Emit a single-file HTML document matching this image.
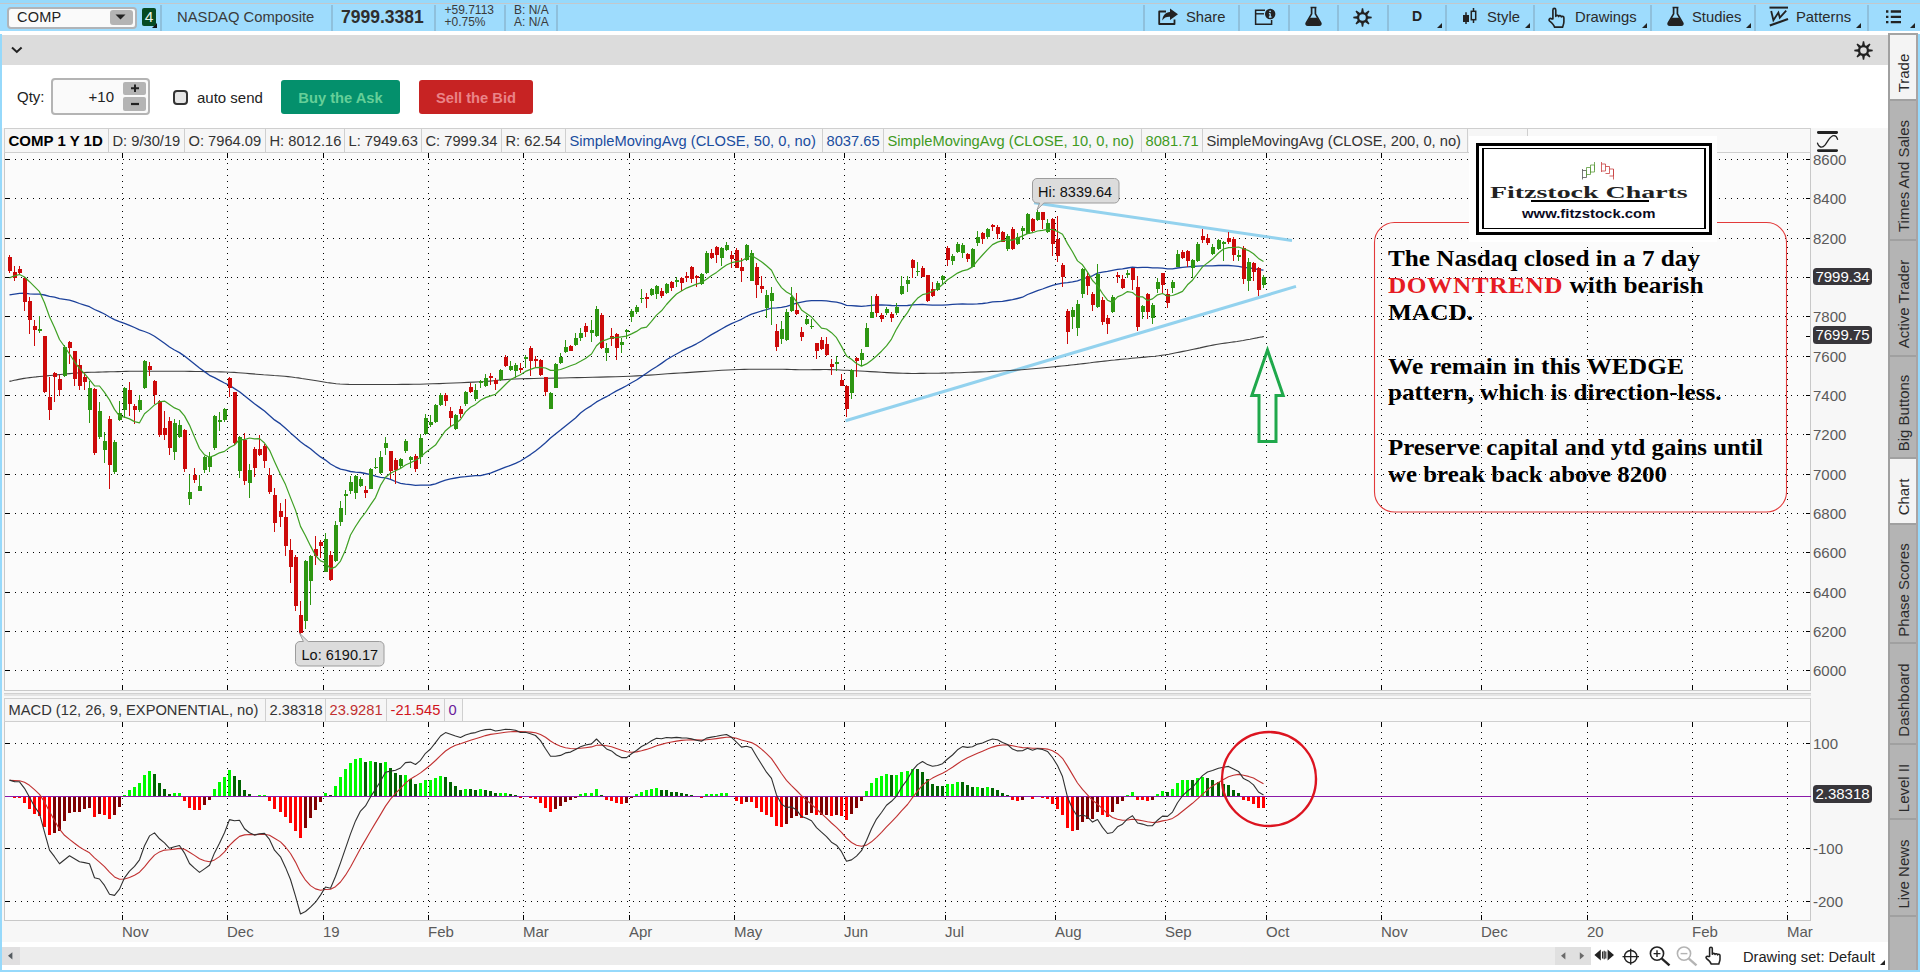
<!DOCTYPE html>
<html><head><meta charset="utf-8"><title>COMP chart</title>
<style>
*{box-sizing:border-box;margin:0;padding:0}
html,body{width:1920px;height:972px;overflow:hidden;background:#fff;font-family:"Liberation Sans",sans-serif;font-size:15px;color:#1a1a1a}
.abs{position:absolute}
#frame{position:absolute;left:0;top:0;width:1920px;height:972px;background:#96d9fb}
#topbar{position:absolute;left:0;top:0;width:1920px;height:32px;background:#9edcfd}
#topbar .ln{position:absolute;left:0;top:0;width:1920px;height:3px;background:#96d9fb;border-bottom:1.5px solid #c2c8cc;box-sizing:content-box}
.tsep{position:absolute;top:5px;width:2px;height:26px;background:#8fc0dc}
.ttxt{position:absolute;top:9px;font-size:14.8px;color:#2b2b2b;white-space:nowrap}
#content{position:absolute;left:2px;top:32px;width:1886px;height:938px;background:#fff}
#graybar{position:absolute;left:2px;top:35px;width:1886px;height:30px;background:#dcdcdc}
#side{position:absolute;left:1888px;top:33px;width:30px;height:937px;background:#b4b4b4;border-left:2px solid #a0a0a0;border-right:2px solid #a8a4a4;border-top:2px solid #a4a4a4}
.tab{position:absolute;left:0;width:26px;border-bottom:2px solid #a0a0a0;}
.tab span{position:absolute;left:12.5px;top:50%;transform:translate(-50%,-50%) translateY(6px) rotate(-90deg);white-space:nowrap;font-size:15px;color:#2b2b2b}
.tab.sel{background:#f4f4f4}
.hdr{position:absolute;height:23px;background:#f7f7f7;border:1px solid #cfcfcf;display:flex;font-size:15px;white-space:nowrap;overflow:hidden}
.hdr div{padding:0 3px 0 4px;border-right:1px solid #cfcfcf;line-height:21px;height:21px}
.axl{position:absolute;left:1813px;font-size:15px;color:#5a5a5a;line-height:16px;height:16px}
.bub{position:absolute;left:1813px;width:59px;height:17.5px;background:#38363b;color:#fff;border-radius:3.5px;font-size:15px;line-height:17.5px;text-align:center}
.xl{position:absolute;top:924px;font-size:15px;color:#5a5a5a;line-height:16px}
</style></head><body>
<div id="frame"></div>
<div id="content"></div>
<div id="topbar"><div class="ln"></div></div>
<div class="abs" style="left:0;top:31px;width:1920px;height:3px;background:#fff"></div>
<div id="graybar"></div>
<div class="abs" style="left:7px;top:7px;width:130px;height:22px;background:#fafafa;border:2px solid #b0b4b8;border-radius:4px"></div>
<div class="abs" style="left:17px;top:9px;font-size:14.5px;line-height:17px;color:#222;letter-spacing:.2px">COMP</div>
<div class="abs" style="left:110px;top:10px;width:23px;height:15px;background:#b4b4b4;border-radius:3px"></div>
<svg class="abs" style="left:115px;top:14px" width="12" height="6"><path d="M0.5,0.5H10.5L5.5,5.5Z" fill="#222"/></svg>
<div class="abs" style="left:142px;top:8px;width:14px;height:18px;background:#064a22;border-radius:2px;color:#e8f4ec;font-size:15.5px;line-height:18px;text-align:center">4</div>
<svg class="abs" style="left:152px;top:23px" width="5" height="5"><path d="M5,0V5H0Z" fill="#111"/></svg>
<div class="tsep" style="left:160px"></div>
<div class="ttxt" style="left:177px;color:#3a3a3a">NASDAQ Composite</div>
<div class="tsep" style="left:331px"></div>
<div class="abs" style="left:341px;top:7px;font-size:17.5px;font-weight:bold;line-height:20px;color:#2e2e2e">7999.3381</div>
<div class="tsep" style="left:434px"></div>
<div class="abs" style="left:444.5px;top:5px;font-size:12px;line-height:11.7px;color:#3a3a3a">+59.7113<br>+0.75%</div>
<div class="tsep" style="left:504px"></div>
<div class="abs" style="left:514px;top:5px;font-size:12px;line-height:11.7px;color:#3a3a3a">B: N/A<br>A: N/A</div>
<div class="tsep" style="left:556px"></div>
<div class="tsep" style="left:1143px"></div>
<div class="tsep" style="left:1238px"></div>
<div class="tsep" style="left:1288px"></div>
<div class="tsep" style="left:1337px"></div>
<div class="tsep" style="left:1387px"></div>
<div class="tsep" style="left:1445px"></div>
<div class="tsep" style="left:1533px"></div>
<div class="tsep" style="left:1650px"></div>
<div class="tsep" style="left:1754px"></div>
<div class="tsep" style="left:1867px"></div>
<svg class="abs" style="left:1157px;top:7px" width="22" height="19"><path d="M9,4.5H2.2V17H17.5V12.5" fill="none" stroke="#222" stroke-width="1.8" stroke-linejoin="round"/><path d="M13,1.5L21,7.3L13,13V9.8C9.5,9.6 7.3,10.6 5.3,13.4C5.6,8.6 8.5,5.4 13,5Z" fill="#222"/></svg>
<div class="ttxt" style="left:1186px">Share</div>
<svg class="abs" style="left:1254px;top:8px" width="23" height="18"><path d="M11,2.2H1.6V16.2H17.6V12" fill="none" stroke="#222" stroke-width="1.5"/><path d="M1.6,5.8H10" stroke="#222" stroke-width="1.4"/><circle cx="16.2" cy="6" r="5.2" fill="#222"/><path d="M16.2,5.4V9M14.9,5.6h1.3M14.9,9h2.6" stroke="#9ddafb" stroke-width="1.3" fill="none"/><circle cx="16.1" cy="3.3" r=".9" fill="#9ddafb"/></svg>
<svg class="abs" style="left:1303.5px;top:6px" width="19" height="21" viewBox="0 0 18 19.4"><path d="M6.2,1.2h5.6M7.2,1.2v6L2.2,15.8c-.6,1.2,.1,2.2,1.4,2.2h10.8c1.3,0,2-1,1.4-2.2L10.8,7.2v-6" fill="none" stroke="#222" stroke-width="1.6" stroke-linejoin="round"/><path d="M5.4,11h7.2l3,5.2c.4,.9,0,1.6-1,1.6H3.4c-1,0-1.4-.7-1-1.6Z" fill="#222"/></svg>
<svg class="abs" style="left:1352.5px;top:8px" width="19" height="19"><path d="M13.68,11.12L18.71,10.16L18.71,8.84L13.68,7.88ZM11.31,13.60L15.55,16.49L16.49,15.55L13.60,11.31ZM7.88,13.68L8.84,18.71L10.16,18.71L11.12,13.68ZM5.40,11.31L2.51,15.55L3.45,16.49L7.69,13.60ZM5.32,7.88L0.29,8.84L0.29,10.17L5.32,11.12ZM7.69,5.40L3.45,2.51L2.51,3.45L5.40,7.69ZM11.12,5.32L10.16,0.29L8.83,0.29L7.88,5.32ZM13.60,7.69L16.49,3.45L15.55,2.51L11.31,5.40Z" fill="#222"/><circle cx="9.5" cy="9.5" r="4.41" fill="none" stroke="#222" stroke-width="2.24"/></svg>
<div class="abs" style="left:1412px;top:8px;font-size:14px;font-weight:bold;line-height:17px;color:#222">D</div>
<svg class="abs" style="left:1437px;top:23px" width="5" height="5"><path d="M5,0V5H0Z" fill="#222"/></svg>
<svg class="abs" style="left:1462px;top:7px" width="16" height="20"><path d="M4,5.2V17M11.5,1V16" stroke="#222" stroke-width="1.5"/><rect x="1" y="8" width="6" height="7" fill="#222"/><rect x="9.3" y="4.3" width="4.4" height="8.4" fill="#9ddafb" stroke="#222" stroke-width="1.5"/></svg>
<div class="ttxt" style="left:1487px">Style</div>
<svg class="abs" style="left:1525px;top:23px" width="5" height="5"><path d="M5,0V5H0Z" fill="#222"/></svg>
<svg class="abs" style="left:1547px;top:6.5px" width="19" height="21.5" viewBox="0 0 18 19.2" preserveAspectRatio="none"><path d="M5.6,10.5V2.6c0-1.9,2.7-1.9,2.7,0V8.3c.3-1.3,2.6-1.2,2.7,.2c.4-1.2,2.5-1,2.6,.4c.5-1,2.4-.8,2.4,.7v3.6c0,2.2-.9,3.2-1.2,4.8H7.2C6.6,16 4.6,14.2 2.6,12.6C1.2,11.4 2.6,9.6 4.2,10.5Z" fill="none" stroke="#222" stroke-width="1.55" stroke-linejoin="round"/></svg>
<div class="ttxt" style="left:1575px">Drawings</div>
<svg class="abs" style="left:1642px;top:23px" width="5" height="5"><path d="M5,0V5H0Z" fill="#222"/></svg>
<svg class="abs" style="left:1665.5px;top:6px" width="19" height="21" viewBox="0 0 18 19.4"><path d="M6.2,1.2h5.6M7.2,1.2v6L2.2,15.8c-.6,1.2,.1,2.2,1.4,2.2h10.8c1.3,0,2-1,1.4-2.2L10.8,7.2v-6" fill="none" stroke="#222" stroke-width="1.6" stroke-linejoin="round"/><path d="M5.4,11h7.2l3,5.2c.4,.9,0,1.6-1,1.6H3.4c-1,0-1.4-.7-1-1.6Z" fill="#222"/></svg>
<div class="ttxt" style="left:1692px">Studies</div>
<svg class="abs" style="left:1746px;top:23px" width="5" height="5"><path d="M5,0V5H0Z" fill="#222"/></svg>
<svg class="abs" style="left:1769px;top:6px" width="20" height="21"><path d="M0.5,1.6H19" stroke="#222" stroke-width="2"/><path d="M2.2,5L4.4,14.2L9.4,6.6L10.8,11.6L17.2,4.6" fill="none" stroke="#222" stroke-width="1.8" stroke-linejoin="miter"/><path d="M0.8,19.6L19,13" stroke="#222" stroke-width="2.1"/></svg>
<div class="ttxt" style="left:1796px">Patterns</div>
<svg class="abs" style="left:1856px;top:23px" width="5" height="5"><path d="M5,0V5H0Z" fill="#222"/></svg>
<svg class="abs" style="left:1886px;top:10px" width="16" height="14"><path d="M0,1.5H2.4M4.8,1.5H15M0,6.8H2.4M4.8,6.8H15M0,12.1H2.4M4.8,12.1H15" stroke="#222" stroke-width="2.3"/></svg>
<svg class="abs" style="left:1910px;top:23px" width="5" height="5"><path d="M5,0V5H0Z" fill="#222"/></svg>
<svg class="abs" style="left:10px;top:45px" width="14" height="10"><path d="M2,2.5L6.8,7L11.6,2.5" fill="none" stroke="#222" stroke-width="2"/></svg>
<svg class="abs" style="left:1853.5px;top:40.5px" width="19" height="19"><path d="M13.68,11.12L18.71,10.16L18.71,8.84L13.68,7.88ZM11.31,13.60L15.55,16.49L16.49,15.55L13.60,11.31ZM7.88,13.68L8.84,18.71L10.16,18.71L11.12,13.68ZM5.40,11.31L2.51,15.55L3.45,16.49L7.69,13.60ZM5.32,7.88L0.29,8.84L0.29,10.17L5.32,11.12ZM7.69,5.40L3.45,2.51L2.51,3.45L5.40,7.69ZM11.12,5.32L10.16,0.29L8.83,0.29L7.88,5.32ZM13.60,7.69L16.49,3.45L15.55,2.51L11.31,5.40Z" fill="#222"/><circle cx="9.5" cy="9.5" r="4.41" fill="none" stroke="#222" stroke-width="2.24"/></svg>
<div class="abs" style="left:17px;top:88px;font-size:15px;line-height:17px;color:#222">Qty:</div>
<div class="abs" style="left:51px;top:78px;width:99px;height:37px;background:#fafafa;border:2px solid #b4b4b4;border-radius:4px"></div>
<div class="abs" style="left:70px;top:88px;width:44px;text-align:right;font-size:15px;line-height:17px;color:#222">+10</div>
<div class="abs" style="left:123px;top:82px;width:23px;height:13px;background:#b4b4b4;border-radius:2px"></div>
<div class="abs" style="left:123px;top:97px;width:23px;height:14px;background:#b4b4b4;border-radius:2px"></div>
<svg class="abs" style="left:130px;top:84px" width="10" height="26"><path d="M1,4.2H9M5,0.4V8" stroke="#222" stroke-width="2"/><path d="M1,20H9" stroke="#222" stroke-width="2.2"/></svg>
<div class="abs" style="left:173px;top:90px;width:15px;height:15px;background:#e6e6e6;border:2px solid #333;border-radius:4px"></div>
<div class="abs" style="left:197px;top:89px;font-size:15px;line-height:17px;color:#222">auto send</div>
<div class="abs" style="left:281px;top:80px;width:119px;height:34px;background:#04906c;border-radius:3px;color:#66cf98;font-weight:bold;font-size:14.7px;line-height:36px;text-align:center">Buy the Ask</div>
<div class="abs" style="left:419px;top:80px;width:114px;height:34px;background:#c72323;border-radius:3px;color:#ea8488;font-weight:bold;font-size:14.7px;line-height:36px;text-align:center">Sell the Bid</div>
<div class="abs" style="left:2px;top:128px;width:1886px;height:815px;background:#f7f7f7"></div>
<div class="abs" style="left:4px;top:152px;width:1807px;height:539px;background:#fbfbfb;border:1px solid #c8c8c8"></div>
<div class="abs" style="left:4px;top:693px;width:1807px;height:3px;background:#e4e4e4;border-top:1px solid #d0d0d0"></div>
<div class="abs" style="left:4px;top:721px;width:1807px;height:200px;background:#fbfbfb;border:1px solid #c8c8c8"></div>
<svg class="abs" style="left:0;top:0" width="1920" height="972">
<path d="M9,670.5H1806 M9,631.5H1806 M9,592.5H1806 M9,552.5H1806 M9,513.5H1806 M9,474.5H1806 M9,434.5H1806 M9,395.5H1806 M9,356.5H1806 M9,316.5H1806 M9,277.5H1806 M9,238.5H1806 M9,198.5H1806 M9,159.5H1806 M9,743.5H1806 M9,848.5H1806 M9,901.5H1806" stroke="#000" stroke-width="1" stroke-dasharray="1 5" shape-rendering="crispEdges" fill="none"/>
<path d="M122.5,163V686M122.5,732V916 M227.5,163V686M227.5,732V916 M323.5,163V686M323.5,732V916 M428.5,163V686M428.5,732V916 M523.5,163V686M523.5,732V916 M629.5,163V686M629.5,732V916 M734.5,163V686M734.5,732V916 M844.5,163V686M844.5,732V916 M945.5,163V686M945.5,732V916 M1055.5,163V686M1055.5,732V916 M1165.5,163V686M1165.5,732V916 M1266.5,163V686M1266.5,732V916 M1381.5,163V686M1381.5,732V916 M1481.5,163V686M1481.5,732V916 M1587.5,163V686M1587.5,732V916 M1692.5,163V686M1692.5,732V916 M1787.5,163V686M1787.5,732V916" stroke="#000" stroke-width="1" stroke-dasharray="1 5" shape-rendering="crispEdges" fill="none"/>
<path d="M122.5,153v5M122.5,685v5M122.5,722v5M122.5,915v5 M227.5,153v5M227.5,685v5M227.5,722v5M227.5,915v5 M323.5,153v5M323.5,685v5M323.5,722v5M323.5,915v5 M428.5,153v5M428.5,685v5M428.5,722v5M428.5,915v5 M523.5,153v5M523.5,685v5M523.5,722v5M523.5,915v5 M629.5,153v5M629.5,685v5M629.5,722v5M629.5,915v5 M734.5,153v5M734.5,685v5M734.5,722v5M734.5,915v5 M844.5,153v5M844.5,685v5M844.5,722v5M844.5,915v5 M945.5,153v5M945.5,685v5M945.5,722v5M945.5,915v5 M1055.5,153v5M1055.5,685v5M1055.5,722v5M1055.5,915v5 M1165.5,153v5M1165.5,685v5M1165.5,722v5M1165.5,915v5 M1266.5,153v5M1266.5,685v5M1266.5,722v5M1266.5,915v5 M1381.5,153v5M1381.5,685v5M1381.5,722v5M1381.5,915v5 M1481.5,153v5M1481.5,685v5M1481.5,722v5M1481.5,915v5 M1587.5,153v5M1587.5,685v5M1587.5,722v5M1587.5,915v5 M1692.5,153v5M1692.5,685v5M1692.5,722v5M1692.5,915v5 M1787.5,153v5M1787.5,685v5M1787.5,722v5M1787.5,915v5 M5,670.5h5M1806,670.5h4 M5,631.5h5M1806,631.5h4 M5,592.5h5M1806,592.5h4 M5,552.5h5M1806,552.5h4 M5,513.5h5M1806,513.5h4 M5,474.5h5M1806,474.5h4 M5,434.5h5M1806,434.5h4 M5,395.5h5M1806,395.5h4 M5,356.5h5M1806,356.5h4 M5,316.5h5M1806,316.5h4 M5,277.5h5M1806,277.5h4 M5,238.5h5M1806,238.5h4 M5,198.5h5M1806,198.5h4 M5,159.5h5M1806,159.5h4 M5,743.5h5M1806,743.5h4 M5,848.5h5M1806,848.5h4 M5,901.5h5M1806,901.5h4 M5,796.5h5M1806,277.5h4M1806,336.5h4" stroke="#000" stroke-width="1" shape-rendering="crispEdges" fill="none"/>
<path d="M1034,202.7L1292,240.4" stroke="#93d2ee" stroke-width="3" fill="none"/>
<path d="M845.5,420.8L1296,286.4" stroke="#93d2ee" stroke-width="3" fill="none"/>
<path d="M9.4,381.4 L10.7,381.1 L12.3,380.8 L14.2,380.3 L16.4,379.9 L18.8,379.4 L21.4,378.9 L24.1,378.4 L26.8,378.0 L29.7,377.6 L32.8,377.2 L36.1,376.9 L39.6,376.5 L43.1,376.2 L46.6,375.9 L50.1,375.5 L53.5,375.2 L56.8,374.9 L60.1,374.5 L63.4,374.2 L66.7,373.9 L70.0,373.6 L73.4,373.3 L76.8,373.0 L80.3,372.8 L83.8,372.6 L87.4,372.4 L91.0,372.3 L94.7,372.2 L98.4,372.1 L102.2,372.0 L106.1,371.9 L110.0,371.8 L114.0,371.7 L117.9,371.6 L121.9,371.5 L126.0,371.4 L130.2,371.3 L134.6,371.3 L139.1,371.2 L144.0,371.2 L149.2,371.2 L154.8,371.2 L160.6,371.2 L166.6,371.2 L172.7,371.2 L178.6,371.3 L184.5,371.3 L190.0,371.4 L195.4,371.5 L200.7,371.5 L205.9,371.6 L211.0,371.7 L216.0,371.8 L220.8,371.9 L225.5,372.0 L230.0,372.2 L234.2,372.4 L238.2,372.7 L242.1,373.0 L245.8,373.3 L249.3,373.6 L252.9,373.9 L256.4,374.2 L260.0,374.5 L263.6,374.8 L267.2,375.0 L270.7,375.2 L274.2,375.5 L277.7,375.7 L281.1,376.0 L284.6,376.3 L288.0,376.6 L291.4,377.0 L294.9,377.5 L298.3,377.9 L301.7,378.5 L305.1,379.0 L308.4,379.5 L311.7,380.0 L315.0,380.5 L318.1,381.0 L321.0,381.5 L323.9,382.0 L326.7,382.5 L329.6,382.9 L332.7,383.3 L336.2,383.7 L340.0,384.0 L344.2,384.2 L348.8,384.4 L353.6,384.5 L358.7,384.5 L363.9,384.5 L369.2,384.5 L374.6,384.5 L380.0,384.5 L385.4,384.5 L390.9,384.5 L396.5,384.5 L402.1,384.4 L407.9,384.4 L413.8,384.3 L419.8,384.2 L426.0,384.0 L432.5,383.8 L439.4,383.6 L446.5,383.3 L453.7,383.0 L460.8,382.7 L467.6,382.4 L474.1,382.1 L480.0,381.8 L485.1,381.5 L489.6,381.1 L493.6,380.7 L497.4,380.3 L501.2,380.0 L505.3,379.6 L509.8,379.3 L515.0,379.0 L520.9,378.8 L527.2,378.6 L533.9,378.5 L540.9,378.3 L548.1,378.2 L555.4,378.1 L562.7,378.0 L570.0,377.8 L577.3,377.6 L584.9,377.5 L592.6,377.3 L600.3,377.1 L608.0,376.9 L615.6,376.7 L622.9,376.5 L630.0,376.2 L636.7,375.9 L643.1,375.5 L649.3,375.1 L655.4,374.7 L661.4,374.3 L667.5,373.8 L673.6,373.4 L680.0,373.0 L686.7,372.6 L693.6,372.1 L700.7,371.6 L707.9,371.2 L714.9,370.7 L721.7,370.3 L728.1,370.0 L734.0,369.7 L739.4,369.5 L744.3,369.4 L749.0,369.3 L753.3,369.2 L757.5,369.2 L761.6,369.2 L765.8,369.2 L770.0,369.2 L774.3,369.2 L778.6,369.3 L782.9,369.3 L787.1,369.4 L791.2,369.5 L795.2,369.6 L799.2,369.7 L803.0,369.7 L806.6,369.7 L810.1,369.7 L813.4,369.6 L816.7,369.6 L819.9,369.6 L823.2,369.5 L826.5,369.5 L830.0,369.6 L833.5,369.7 L837.0,369.8 L840.5,370.0 L844.0,370.2 L847.7,370.3 L851.5,370.6 L855.6,370.8 L860.0,371.0 L864.8,371.3 L870.1,371.6 L875.7,371.9 L881.4,372.2 L887.1,372.6 L892.7,372.9 L898.1,373.1 L903.0,373.3 L907.5,373.4 L911.8,373.5 L915.9,373.5 L919.9,373.4 L923.7,373.4 L927.5,373.3 L931.2,373.3 L935.0,373.2 L938.7,373.2 L942.1,373.1 L945.3,373.0 L948.6,373.0 L952.0,372.9 L955.6,372.8 L959.6,372.7 L964.0,372.5 L969.0,372.3 L974.4,372.1 L980.1,371.9 L986.1,371.7 L992.1,371.4 L998.2,371.2 L1004.2,370.8 L1010.0,370.5 L1015.7,370.1 L1021.6,369.7 L1027.4,369.2 L1033.2,368.7 L1038.9,368.2 L1044.3,367.7 L1049.4,367.2 L1054.0,366.8 L1058.1,366.4 L1061.7,366.0 L1065.0,365.7 L1068.0,365.4 L1070.9,365.0 L1073.8,364.7 L1076.8,364.4 L1080.0,364.0 L1083.4,363.6 L1086.9,363.2 L1090.4,362.8 L1093.9,362.3 L1097.5,361.9 L1101.0,361.5 L1104.5,361.1 L1108.0,360.7 L1111.4,360.3 L1114.8,360.0 L1118.2,359.6 L1121.6,359.3 L1124.9,359.0 L1128.3,358.7 L1131.6,358.3 L1135.0,358.0 L1138.4,357.7 L1141.7,357.4 L1145.1,357.1 L1148.4,356.8 L1151.8,356.5 L1155.2,356.2 L1158.6,355.8 L1162.0,355.3 L1165.5,354.8 L1169.0,354.2 L1172.5,353.5 L1176.1,352.8 L1179.6,352.1 L1183.1,351.4 L1186.6,350.7 L1190.0,350.0 L1193.4,349.3 L1196.7,348.6 L1200.0,347.9 L1203.2,347.1 L1206.5,346.4 L1209.7,345.7 L1212.9,345.1 L1216.0,344.5 L1219.1,344.0 L1222.1,343.5 L1225.1,343.1 L1228.1,342.7 L1231.1,342.3 L1234.0,341.9 L1237.0,341.5 L1240.0,341.0 L1243.2,340.5 L1246.6,339.8 L1250.1,339.2 L1253.5,338.5 L1256.8,337.9 L1259.7,337.3 L1262.1,336.9 L1264.0,336.5" fill="none" stroke="#404040" stroke-width="1.1" stroke-linejoin="round" />
<path d="M9.5,294.8 L14.5,294.1 L19.5,293.3 L24.5,293.2 L29.5,293.8 L34.5,294.2 L39.5,294.2 L44.5,295.0 L49.5,296.4 L54.5,297.2 L59.5,298.7 L64.5,299.3 L69.5,300.2 L74.5,301.7 L79.5,303.5 L84.5,305.1 L89.5,306.7 L94.5,309.5 L99.5,311.7 L104.5,314.0 L109.5,317.0 L114.5,319.6 L119.5,321.6 L124.5,323.3 L129.5,325.4 L134.5,327.5 L139.5,329.8 L144.5,331.5 L149.5,333.5 L154.5,336.2 L159.5,339.7 L164.5,343.3 L169.5,347.0 L174.5,350.0 L179.5,352.6 L184.5,356.1 L189.5,360.1 L194.5,364.0 L199.5,368.0 L204.5,371.6 L209.5,375.3 L214.5,377.7 L219.5,380.3 L224.5,383.0 L229.5,385.3 L234.5,388.6 L239.5,391.7 L244.5,395.8 L249.5,399.8 L254.5,403.8 L259.5,407.4 L264.5,411.1 L269.5,415.5 L274.5,419.9 L280.5,423.9 L285.5,428.2 L290.5,432.9 L295.5,437.2 L300.5,441.7 L305.5,445.4 L310.5,448.7 L315.5,452.9 L320.5,456.9 L325.5,460.1 L330.5,464.0 L335.5,466.8 L340.5,469.2 L345.5,470.1 L350.5,471.5 L355.5,472.2 L360.5,472.5 L365.5,473.5 L370.5,474.6 L375.5,476.2 L380.5,477.3 L385.5,477.9 L390.5,479.3 L395.5,481.5 L400.5,483.3 L405.5,484.2 L410.5,484.7 L415.5,485.4 L420.5,485.2 L425.5,485.1 L430.5,485.0 L435.5,483.8 L440.5,481.8 L445.5,480.2 L450.5,478.9 L455.5,478.0 L460.5,477.1 L465.5,476.7 L470.5,476.1 L475.5,475.7 L480.5,475.6 L485.5,474.3 L490.5,473.1 L495.5,471.2 L500.5,469.2 L505.5,467.1 L510.5,465.4 L515.5,463.4 L520.5,461.0 L525.5,457.7 L530.5,454.6 L535.5,450.9 L540.5,447.0 L545.5,442.8 L550.5,438.0 L555.5,434.0 L560.5,430.1 L565.5,425.9 L570.5,422.0 L575.5,418.0 L580.5,413.0 L585.5,409.2 L591.5,405.6 L596.5,401.9 L601.5,399.2 L606.5,396.7 L611.5,393.8 L616.5,390.9 L621.5,388.4 L626.5,385.7 L631.5,382.7 L636.5,380.0 L641.5,376.6 L646.5,373.2 L651.5,369.8 L656.5,366.7 L661.5,363.4 L666.5,359.8 L671.5,356.7 L676.5,354.0 L681.5,351.2 L686.5,348.6 L691.5,346.3 L696.5,343.8 L701.5,341.0 L706.5,337.7 L711.5,334.6 L716.5,331.9 L721.5,329.0 L726.5,326.1 L731.5,323.7 L736.5,321.5 L741.5,319.3 L746.5,316.5 L751.5,314.2 L756.5,312.6 L761.5,311.0 L766.5,309.6 L771.5,308.1 L776.5,307.9 L781.5,307.3 L786.5,306.3 L791.5,304.8 L796.5,303.2 L801.5,302.1 L806.5,301.2 L811.5,300.6 L816.5,300.6 L821.5,300.6 L826.5,300.9 L831.5,301.6 L836.5,302.2 L841.5,303.3 L846.5,305.3 L851.5,305.7 L856.5,306.0 L861.5,306.3 L866.5,305.9 L871.5,305.3 L876.5,304.9 L881.5,305.0 L886.5,305.1 L891.5,305.5 L896.5,305.7 L901.5,305.6 L907.5,305.5 L912.5,304.9 L917.5,304.6 L922.5,304.4 L927.5,304.8 L932.5,305.1 L937.5,305.2 L942.5,305.2 L947.5,304.8 L952.5,304.4 L957.5,304.2 L962.5,304.0 L967.5,304.1 L972.5,304.1 L977.5,303.9 L982.5,303.5 L987.5,302.8 L992.5,301.9 L997.5,301.7 L1002.5,301.4 L1007.5,300.5 L1012.5,299.7 L1017.5,298.5 L1022.5,297.2 L1027.5,294.5 L1032.5,292.6 L1037.5,290.6 L1042.5,289.0 L1047.5,287.2 L1052.5,285.4 L1057.5,284.1 L1062.5,283.1 L1067.5,282.7 L1072.5,281.9 L1077.5,280.9 L1082.5,279.0 L1087.5,277.4 L1092.5,275.8 L1097.5,273.1 L1102.5,272.2 L1107.5,271.4 L1112.5,270.3 L1117.5,269.3 L1122.5,268.8 L1127.5,268.0 L1132.5,267.2 L1137.5,267.6 L1142.5,267.4 L1147.5,267.4 L1152.5,267.8 L1157.5,267.9 L1162.5,268.2 L1167.5,268.8 L1172.5,268.9 L1177.5,268.0 L1182.5,267.3 L1187.5,266.8 L1192.5,266.5 L1197.5,266.2 L1202.5,265.9 L1207.5,265.8 L1212.5,265.9 L1218.5,265.5 L1223.5,265.4 L1228.5,265.5 L1233.5,265.8 L1238.5,266.3 L1243.5,267.3 L1248.5,267.9 L1253.5,268.5 L1258.5,269.6 L1263.5,270.1" fill="none" stroke="#1c419a" stroke-width="1.3" stroke-linejoin="round" />
<path d="M39,316h1V333h-1Z M38,329h4V331h-4Z M64,345h1V377h-1Z M63,347h4V376h-4Z M89,381h1V423h-1Z M88,388h4V410h-4Z M99,402h1V439h-1Z M98,411h4V437h-4Z M104,432h1V463h-1Z M103,441h4V450h-4Z M114,440h1V474h-1Z M113,442h4V472h-4Z M119,401h1V421h-1Z M118,413h4V420h-4Z M124,387h1V418h-1Z M123,388h4V410h-4Z M139,395h1V412h-1Z M138,400h4V410h-4Z M144,360h1V389h-1Z M143,361h4V388h-4Z M174,419h1V460h-1Z M173,423h4V452h-4Z M179,420h1V438h-1Z M178,425h4V437h-4Z M189,475h1V505h-1Z M188,492h4V499h-4Z M199,475h1V491h-1Z M198,486h4V491h-4Z M204,456h1V473h-1Z M203,457h4V470h-4Z M209,452h1V472h-1Z M208,457h4V467h-4Z M214,415h1V450h-1Z M213,416h4V448h-4Z M219,412h1V431h-1Z M218,420h4V422h-4Z M224,408h1V422h-1Z M223,409h4V420h-4Z M239,436h1V478h-1Z M238,437h4V471h-4Z M249,464h1V498h-1Z M248,470h4V483h-4Z M305,560h1V629h-1Z M304,561h4V621h-4Z M310,555h1V605h-1Z M309,556h4V581h-4Z M325,533h1V572h-1Z M324,539h4V572h-4Z M335,521h1V562h-1Z M334,525h4V561h-4Z M340,501h1V526h-1Z M339,508h4V522h-4Z M345,490h1V515h-1Z M344,494h4V496h-4Z M350,476h1V494h-1Z M349,482h4V491h-4Z M355,475h1V499h-1Z M354,476h4V493h-4Z M360,477h1V487h-1Z M359,479h4V486h-4Z M370,468h1V489h-1Z M369,469h4V489h-4Z M375,458h1V469h-1Z M374,467h4V468h-4Z M380,451h1V474h-1Z M379,457h4V473h-4Z M385,437h1V455h-1Z M384,443h4V448h-4Z M400,458h1V468h-1Z M399,459h4V466h-4Z M405,439h1V453h-1Z M404,441h4V451h-4Z M410,456h1V468h-1Z M409,457h4V460h-4Z M420,434h1V464h-1Z M419,438h4V457h-4Z M425,414h1V435h-1Z M424,418h4V434h-4Z M430,415h1V427h-1Z M429,422h4V425h-4Z M435,404h1V423h-1Z M434,405h4V422h-4Z M440,393h1V406h-1Z M439,395h4V405h-4Z M455,414h1V430h-1Z M454,415h4V429h-4Z M465,391h1V406h-1Z M464,392h4V404h-4Z M475,384h1V401h-1Z M474,390h4V399h-4Z M480,380h1V388h-1Z M479,381h4V383h-4Z M485,374h1V387h-1Z M484,378h4V386h-4Z M500,369h1V381h-1Z M499,370h4V380h-4Z M510,361h1V371h-1Z M509,366h4V370h-4Z M515,363h1V378h-1Z M514,365h4V371h-4Z M525,355h1V368h-1Z M524,357h4V359h-4Z M550,392h1V409h-1Z M549,393h4V409h-4Z M555,363h1V388h-1Z M554,364h4V388h-4Z M560,353h1V364h-1Z M559,357h4V363h-4Z M565,340h1V353h-1Z M564,347h4V352h-4Z M575,333h1V346h-1Z M574,338h4V345h-4Z M580,328h1V341h-1Z M579,333h4V338h-4Z M591,320h1V342h-1Z M590,330h4V333h-4Z M596,306h1V337h-1Z M595,309h4V336h-4Z M606,343h1V361h-1Z M605,348h4V353h-4Z M621,338h1V353h-1Z M620,342h4V345h-4Z M626,329h1V339h-1Z M625,330h4V332h-4Z M631,309h1V322h-1Z M630,311h4V317h-4Z M636,305h1V314h-1Z M635,307h4V312h-4Z M641,289h1V303h-1Z M640,298h4V299h-4Z M651,288h1V296h-1Z M650,289h4V295h-4Z M656,285h1V299h-1Z M655,286h4V294h-4Z M666,283h1V294h-1Z M665,284h4V293h-4Z M676,277h1V287h-1Z M675,280h4V282h-4Z M701,273h1V285h-1Z M700,274h4V284h-4Z M706,251h1V274h-1Z M705,253h4V273h-4Z M721,247h1V266h-1Z M720,248h4V258h-4Z M726,242h1V251h-1Z M725,245h4V250h-4Z M746,244h1V261h-1Z M745,245h4V260h-4Z M751,250h1V281h-1Z M750,253h4V281h-4Z M766,290h1V318h-1Z M765,295h4V308h-4Z M771,287h1V325h-1Z M770,293h4V301h-4Z M781,321h1V344h-1Z M780,329h4V339h-4Z M786,309h1V341h-1Z M785,312h4V340h-4Z M791,287h1V312h-1Z M790,297h4V311h-4Z M806,315h1V325h-1Z M805,319h4V324h-4Z M811,319h1V329h-1Z M810,326h4V327h-4Z M836,356h1V371h-1Z M835,362h4V364h-4Z M851,369h1V399h-1Z M850,370h4V393h-4Z M861,349h1V366h-1Z M860,353h4V360h-4Z M866,323h1V347h-1Z M865,328h4V347h-4Z M871,296h1V318h-1Z M870,312h4V318h-4Z M886,307h1V315h-1Z M885,309h4V313h-4Z M896,303h1V315h-1Z M895,307h4V313h-4Z M901,276h1V295h-1Z M900,286h4V294h-4Z M907,276h1V292h-1Z M906,280h4V284h-4Z M917,262h1V276h-1Z M916,271h4V272h-4Z M937,281h1V291h-1Z M936,283h4V290h-4Z M942,275h1V284h-1Z M941,276h4V280h-4Z M952,254h1V265h-1Z M951,256h4V261h-4Z M957,242h1V253h-1Z M956,244h4V252h-4Z M962,243h1V258h-1Z M961,245h4V253h-4Z M972,248h1V267h-1Z M971,249h4V267h-4Z M977,231h1V246h-1Z M976,237h4V243h-4Z M987,228h1V239h-1Z M986,229h4V237h-4Z M1007,234h1V251h-1Z M1006,236h4V249h-4Z M1017,233h1V245h-1Z M1016,237h4V244h-4Z M1022,226h1V240h-1Z M1021,228h4V231h-4Z M1027,213h1V234h-1Z M1026,214h4V234h-4Z M1037,210h1V221h-1Z M1036,212h4V220h-4Z M1047,219h1V233h-1Z M1046,223h4V232h-4Z M1072,307h1V329h-1Z M1071,310h4V317h-4Z M1077,300h1V336h-1Z M1076,304h4V328h-4Z M1082,268h1V298h-1Z M1081,269h4V294h-4Z M1097,264h1V308h-1Z M1096,274h4V307h-4Z M1112,295h1V313h-1Z M1111,297h4V312h-4Z M1127,270h1V278h-1Z M1126,273h4V275h-4Z M1142,305h1V319h-1Z M1141,306h4V312h-4Z M1152,303h1V324h-1Z M1151,305h4V318h-4Z M1157,278h1V293h-1Z M1156,282h4V289h-4Z M1172,280h1V293h-1Z M1171,282h4V288h-4Z M1177,250h1V267h-1Z M1176,254h4V267h-4Z M1192,259h1V278h-1Z M1191,260h4V268h-4Z M1197,242h1V262h-1Z M1196,244h4V261h-4Z M1212,244h1V255h-1Z M1211,247h4V254h-4Z M1218,239h1V250h-1Z M1217,240h4V249h-4Z M1223,241h1V261h-1Z M1222,242h4V244h-4Z M1238,250h1V261h-1Z M1237,255h4V257h-4Z M1248,258h1V291h-1Z M1247,262h4V281h-4Z M1263,275h1V288h-1Z M1262,277h4V285h-4Z" fill="#2e9612" shape-rendering="crispEdges"/><path d="M9,255h1V273h-1Z M8,257h4V271h-4Z M14,266h1V281h-1Z M13,272h4V278h-4Z M19,266h1V275h-1Z M18,269h4V273h-4Z M24,277h1V311h-1Z M23,278h4V302h-4Z M29,297h1V334h-1Z M28,301h4V320h-4Z M34,320h1V346h-1Z M33,326h4V330h-4Z M44,336h1V393h-1Z M43,336h4V392h-4Z M49,377h1V420h-1Z M48,397h4V410h-4Z M54,372h1V402h-1Z M53,373h4V377h-4Z M59,375h1V396h-1Z M58,379h4V390h-4Z M69,341h1V364h-1Z M68,342h4V348h-4Z M74,351h1V386h-1Z M73,351h4V379h-4Z M79,359h1V390h-1Z M78,365h4V386h-4Z M84,372h1V390h-1Z M83,377h4V382h-4Z M94,388h1V455h-1Z M93,389h4V453h-4Z M109,416h1V489h-1Z M108,419h4V465h-4Z M129,382h1V416h-1Z M128,390h4V404h-4Z M134,404h1V424h-1Z M133,406h4V410h-4Z M149,362h1V376h-1Z M148,366h4V370h-4Z M154,380h1V404h-1Z M153,381h4V395h-4Z M159,400h1V437h-1Z M158,401h4V435h-4Z M164,411h1V440h-1Z M163,428h4V435h-4Z M169,417h1V455h-1Z M168,421h4V448h-4Z M184,429h1V472h-1Z M183,430h4V469h-4Z M194,468h1V483h-1Z M193,475h4V480h-4Z M229,377h1V397h-1Z M228,378h4V388h-4Z M234,392h1V445h-1Z M233,392h4V443h-4Z M244,433h1V485h-1Z M243,440h4V481h-4Z M254,447h1V477h-1Z M253,449h4V468h-4Z M259,435h1V456h-1Z M258,449h4V455h-4Z M264,444h1V468h-1Z M263,446h4V461h-4Z M269,468h1V494h-1Z M268,475h4V492h-4Z M274,488h1V532h-1Z M273,495h4V523h-4Z M280,503h1V527h-1Z M279,511h4V517h-4Z M285,499h1V556h-1Z M284,517h4V546h-4Z M290,539h1V583h-1Z M289,550h4V567h-4Z M295,555h1V611h-1Z M294,557h4V606h-4Z M300,601h1V634h-1Z M299,615h4V633h-4Z M315,536h1V565h-1Z M314,549h4V556h-4Z M320,540h1V558h-1Z M319,542h4V546h-4Z M330,551h1V581h-1Z M329,555h4V580h-4Z M365,486h1V498h-1Z M364,490h4V493h-4Z M390,451h1V479h-1Z M389,451h4V471h-4Z M395,458h1V484h-1Z M394,460h4V470h-4Z M415,454h1V472h-1Z M414,456h4V469h-4Z M445,393h1V406h-1Z M444,395h4V401h-4Z M450,407h1V426h-1Z M449,411h4V418h-4Z M460,406h1V418h-1Z M459,409h4V414h-4Z M470,383h1V393h-1Z M469,387h4V392h-4Z M490,373h1V385h-1Z M489,376h4V378h-4Z M495,378h1V390h-1Z M494,380h4V384h-4Z M505,355h1V367h-1Z M504,357h4V366h-4Z M520,363h1V373h-1Z M519,368h4V370h-4Z M530,346h1V376h-1Z M529,348h4V361h-4Z M535,356h1V367h-1Z M534,359h4V361h-4Z M540,359h1V376h-1Z M539,360h4V375h-4Z M545,377h1V396h-1Z M544,377h4V392h-4Z M570,345h1V351h-1Z M569,346h4V351h-4Z M585,323h1V337h-1Z M584,326h4V332h-4Z M601,313h1V349h-1Z M600,315h4V348h-4Z M611,328h1V346h-1Z M610,336h4V339h-4Z M616,333h1V360h-1Z M615,334h4V348h-4Z M646,293h1V308h-1Z M645,297h4V299h-4Z M661,288h1V298h-1Z M660,291h4V296h-4Z M671,281h1V291h-1Z M670,282h4V288h-4Z M681,277h1V291h-1Z M680,278h4V283h-4Z M686,272h1V282h-1Z M685,276h4V278h-4Z M691,266h1V283h-1Z M690,267h4V279h-4Z M696,275h1V287h-1Z M695,276h4V278h-4Z M711,249h1V259h-1Z M710,253h4V258h-4Z M716,246h1V263h-1Z M715,247h4V255h-4Z M731,251h1V268h-1Z M730,255h4V259h-4Z M736,248h1V268h-1Z M735,250h4V268h-4Z M741,258h1V282h-1Z M740,267h4V271h-4Z M756,263h1V298h-1Z M755,267h4V285h-4Z M761,276h1V293h-1Z M760,286h4V289h-4Z M776,324h1V351h-1Z M775,331h4V347h-4Z M796,293h1V315h-1Z M795,310h4V314h-4Z M801,327h1V341h-1Z M800,332h4V337h-4Z M816,343h1V359h-1Z M815,343h4V351h-4Z M821,337h1V350h-1Z M820,340h4V349h-4Z M826,337h1V356h-1Z M825,344h4V355h-4Z M831,359h1V375h-1Z M830,364h4V367h-4Z M841,374h1V386h-1Z M840,380h4V386h-4Z M846,385h1V417h-1Z M845,386h4V409h-4Z M856,357h1V377h-1Z M855,358h4V361h-4Z M876,294h1V317h-1Z M875,296h4V313h-4Z M881,313h1V322h-1Z M880,315h4V319h-4Z M891,312h1V322h-1Z M890,314h4V318h-4Z M912,259h1V278h-1Z M911,260h4V268h-4Z M922,266h1V277h-1Z M921,268h4V277h-4Z M927,275h1V302h-1Z M926,275h4V301h-4Z M932,282h1V297h-1Z M931,289h4V296h-4Z M947,246h1V266h-1Z M946,248h4V260h-4Z M967,253h1V262h-1Z M966,254h4V259h-4Z M982,232h1V244h-1Z M981,233h4V239h-4Z M992,224h1V231h-1Z M991,225h4V227h-4Z M997,225h1V239h-1Z M996,227h4V234h-4Z M1002,231h1V242h-1Z M1001,232h4V242h-4Z M1012,227h1V250h-1Z M1011,229h4V249h-4Z M1032,218h1V232h-1Z M1031,219h4V231h-4Z M1042,212h1V229h-1Z M1041,212h4V220h-4Z M1052,218h1V256h-1Z M1051,219h4V244h-4Z M1057,216h1V262h-1Z M1056,239h4V256h-4Z M1062,263h1V287h-1Z M1061,265h4V277h-4Z M1067,309h1V344h-1Z M1066,311h4V332h-4Z M1087,273h1V295h-1Z M1086,276h4V286h-4Z M1092,292h1V311h-1Z M1091,294h4V305h-4Z M1102,297h1V325h-1Z M1101,300h4V322h-4Z M1107,315h1V334h-1Z M1106,318h4V324h-4Z M1117,272h1V283h-1Z M1116,275h4V277h-4Z M1122,275h1V289h-1Z M1121,279h4V288h-4Z M1132,268h1V290h-1Z M1131,268h4V280h-4Z M1137,276h1V331h-1Z M1136,287h4V327h-4Z M1147,293h1V319h-1Z M1146,294h4V312h-4Z M1162,273h1V294h-1Z M1161,273h4V285h-4Z M1167,289h1V308h-1Z M1166,294h4V303h-4Z M1182,250h1V259h-1Z M1181,252h4V258h-4Z M1187,250h1V267h-1Z M1186,251h4V261h-4Z M1202,229h1V243h-1Z M1201,236h4V240h-4Z M1207,234h1V245h-1Z M1206,238h4V243h-4Z M1228,232h1V244h-1Z M1227,238h4V242h-4Z M1233,237h1V261h-1Z M1232,239h4V255h-4Z M1243,246h1V284h-1Z M1242,248h4V279h-4Z M1253,262h1V281h-1Z M1252,263h4V272h-4Z M1258,267h1V296h-1Z M1257,268h4V290h-4Z" fill="#cc0a0a" shape-rendering="crispEdges"/>
<path d="M9.5,277.9 L14.5,275.8 L19.5,274.5 L24.5,277.0 L29.5,281.7 L34.5,286.7 L39.5,291.7 L44.5,302.8 L49.5,316.8 L54.5,327.6 L59.5,339.5 L64.5,346.5 L69.5,354.0 L74.5,361.8 L79.5,368.4 L84.5,373.7 L89.5,379.6 L94.5,385.8 L99.5,386.0 L104.5,392.4 L109.5,399.9 L114.5,409.4 L119.5,416.1 L124.5,417.1 L129.5,418.9 L134.5,421.6 L139.5,422.8 L144.5,413.7 L149.5,409.6 L154.5,404.9 L159.5,401.9 L164.5,401.1 L169.5,404.5 L174.5,407.9 L179.5,410.0 L184.5,415.9 L189.5,425.1 L194.5,436.9 L199.5,448.5 L204.5,454.9 L209.5,457.2 L214.5,455.4 L219.5,452.8 L224.5,451.4 L229.5,447.5 L234.5,445.0 L239.5,439.5 L244.5,439.6 L249.5,438.0 L254.5,438.9 L259.5,438.6 L264.5,443.0 L269.5,450.1 L274.5,461.4 L280.5,474.4 L285.5,484.6 L290.5,497.6 L295.5,510.1 L300.5,526.4 L305.5,535.7 L310.5,545.9 L315.5,555.5 L320.5,560.9 L325.5,562.6 L330.5,568.9 L335.5,566.9 L340.5,561.1 L345.5,550.0 L350.5,535.0 L355.5,526.5 L360.5,518.8 L365.5,512.5 L370.5,504.9 L375.5,497.6 L380.5,485.4 L385.5,477.2 L390.5,473.3 L395.5,470.8 L400.5,468.5 L405.5,465.0 L410.5,462.8 L415.5,460.3 L420.5,457.2 L425.5,452.4 L430.5,448.8 L435.5,445.1 L440.5,437.6 L445.5,430.7 L450.5,426.5 L455.5,423.9 L460.5,419.5 L465.5,411.9 L470.5,407.3 L475.5,404.4 L480.5,400.3 L485.5,397.6 L490.5,395.9 L495.5,394.2 L500.5,389.5 L505.5,384.5 L510.5,379.7 L515.5,377.0 L520.5,374.8 L525.5,371.4 L530.5,369.4 L535.5,367.6 L540.5,367.3 L545.5,368.0 L550.5,370.4 L555.5,370.3 L560.5,369.5 L565.5,367.7 L570.5,365.8 L575.5,364.0 L580.5,361.3 L585.5,358.4 L591.5,354.0 L596.5,345.8 L601.5,341.2 L606.5,339.6 L611.5,337.7 L616.5,337.7 L621.5,336.9 L626.5,336.1 L631.5,333.9 L636.5,331.4 L641.5,328.1 L646.5,327.1 L651.5,321.3 L656.5,315.1 L661.5,310.8 L666.5,304.5 L671.5,299.0 L676.5,294.0 L681.5,291.1 L686.5,288.1 L691.5,286.1 L696.5,284.1 L701.5,282.6 L706.5,279.3 L711.5,275.5 L716.5,272.4 L721.5,268.5 L726.5,265.0 L731.5,262.7 L736.5,261.7 L741.5,260.9 L746.5,257.7 L751.5,255.5 L756.5,258.6 L761.5,261.7 L766.5,265.8 L771.5,270.3 L776.5,280.5 L781.5,287.6 L786.5,292.0 L791.5,294.8 L796.5,301.6 L801.5,309.9 L806.5,313.4 L811.5,317.1 L816.5,322.7 L821.5,328.2 L826.5,329.0 L831.5,332.7 L836.5,337.7 L841.5,346.4 L846.5,355.9 L851.5,359.3 L856.5,363.5 L861.5,366.1 L866.5,363.9 L871.5,360.2 L876.5,356.0 L881.5,351.2 L886.5,345.9 L891.5,339.1 L896.5,329.1 L901.5,320.7 L907.5,312.6 L912.5,304.0 L917.5,298.3 L922.5,294.7 L927.5,293.5 L932.5,291.2 L937.5,288.7 L942.5,284.5 L947.5,279.7 L952.5,276.6 L957.5,273.1 L962.5,270.9 L967.5,269.6 L972.5,266.9 L977.5,260.6 L982.5,255.0 L987.5,249.6 L992.5,244.6 L997.5,242.1 L1002.5,240.6 L1007.5,239.8 L1012.5,240.1 L1017.5,238.1 L1022.5,235.9 L1027.5,233.6 L1032.5,232.7 L1037.5,231.0 L1042.5,230.3 L1047.5,229.3 L1052.5,229.5 L1057.5,231.4 L1062.5,234.2 L1067.5,243.6 L1072.5,251.8 L1077.5,260.9 L1082.5,264.8 L1087.5,272.1 L1092.5,280.5 L1097.5,285.6 L1102.5,293.5 L1107.5,300.2 L1112.5,302.4 L1117.5,296.9 L1122.5,294.7 L1127.5,291.6 L1132.5,292.5 L1137.5,296.6 L1142.5,296.8 L1147.5,300.5 L1152.5,298.9 L1157.5,294.8 L1162.5,293.5 L1167.5,296.0 L1172.5,295.5 L1177.5,293.6 L1182.5,291.4 L1187.5,284.8 L1192.5,280.2 L1197.5,273.5 L1202.5,266.9 L1207.5,262.9 L1212.5,259.1 L1218.5,253.0 L1223.5,249.0 L1228.5,247.7 L1233.5,247.5 L1238.5,247.0 L1243.5,248.7 L1248.5,250.6 L1253.5,253.8 L1258.5,258.4 L1263.5,261.5" fill="none" stroke="#3fa024" stroke-width="1.2" stroke-linejoin="round" />
<path d="M5,796.5H1811" stroke="#8a1aa8" stroke-width="1.4" shape-rendering="crispEdges"/>
<path d="M123,795h3V796h-3Z M128,790h3V796h-3Z M133,787h3V796h-3Z M138,783h3V796h-3Z M143,775h3V796h-3Z M148,771h3V796h-3Z M173,793h3V796h-3Z M178,793h3V796h-3Z M213,789h3V796h-3Z M218,782h3V796h-3Z M223,777h3V796h-3Z M228,770h3V796h-3Z M258,795h3V796h-3Z M263,795h3V796h-3Z M324,793h3V796h-3Z M334,786h3V796h-3Z M339,777h3V796h-3Z M344,769h3V796h-3Z M349,763h3V796h-3Z M354,759h3V796h-3Z M359,758h3V796h-3Z M369,761h3V796h-3Z M384,762h3V796h-3Z M404,775h3V796h-3Z M419,783h3V796h-3Z M424,780h3V796h-3Z M429,780h3V796h-3Z M434,778h3V796h-3Z M439,776h3V796h-3Z M464,789h3V796h-3Z M479,789h3V796h-3Z M499,793h3V796h-3Z M504,793h3V796h-3Z M579,794h3V796h-3Z M584,793h3V796h-3Z M590,793h3V796h-3Z M595,789h3V796h-3Z M635,794h3V796h-3Z M640,792h3V796h-3Z M645,790h3V796h-3Z M650,789h3V796h-3Z M655,788h3V796h-3Z M705,794h3V796h-3Z M710,794h3V796h-3Z M715,794h3V796h-3Z M720,793h3V796h-3Z M725,793h3V796h-3Z M865,791h3V796h-3Z M870,783h3V796h-3Z M875,778h3V796h-3Z M880,776h3V796h-3Z M885,774h3V796h-3Z M895,775h3V796h-3Z M900,772h3V796h-3Z M906,771h3V796h-3Z M911,769h3V796h-3Z M946,784h3V796h-3Z M951,784h3V796h-3Z M956,782h3V796h-3Z M976,787h3V796h-3Z M986,787h3V796h-3Z M1126,795h3V796h-3Z M1131,792h3V796h-3Z M1156,794h3V796h-3Z M1161,791h3V796h-3Z M1171,789h3V796h-3Z M1176,783h3V796h-3Z M1181,780h3V796h-3Z M1186,780h3V796h-3Z M1196,778h3V796h-3Z M1201,777h3V796h-3Z" fill="#00fa00" shape-rendering="crispEdges"/><path d="M153,774h3V796h-3Z M158,783h3V796h-3Z M163,789h3V796h-3Z M168,794h3V796h-3Z M233,776h3V796h-3Z M238,780h3V796h-3Z M243,790h3V796h-3Z M248,794h3V796h-3Z M329,795h3V796h-3Z M364,762h3V796h-3Z M374,762h3V796h-3Z M379,763h3V796h-3Z M389,768h3V796h-3Z M394,773h3V796h-3Z M399,775h3V796h-3Z M409,779h3V796h-3Z M414,784h3V796h-3Z M444,777h3V796h-3Z M449,782h3V796h-3Z M454,786h3V796h-3Z M459,790h3V796h-3Z M469,789h3V796h-3Z M474,790h3V796h-3Z M484,790h3V796h-3Z M489,791h3V796h-3Z M494,793h3V796h-3Z M509,794h3V796h-3Z M514,795h3V796h-3Z M600,795h3V796h-3Z M660,790h3V796h-3Z M665,790h3V796h-3Z M670,792h3V796h-3Z M675,792h3V796h-3Z M680,793h3V796h-3Z M685,794h3V796h-3Z M690,795h3V796h-3Z M890,775h3V796h-3Z M916,769h3V796h-3Z M921,772h3V796h-3Z M926,779h3V796h-3Z M931,784h3V796h-3Z M936,786h3V796h-3Z M941,786h3V796h-3Z M961,782h3V796h-3Z M966,785h3V796h-3Z M971,787h3V796h-3Z M981,788h3V796h-3Z M991,788h3V796h-3Z M996,790h3V796h-3Z M1001,793h3V796h-3Z M1006,795h3V796h-3Z M1166,792h3V796h-3Z M1191,780h3V796h-3Z M1206,778h3V796h-3Z M1211,780h3V796h-3Z M1217,782h3V796h-3Z M1222,784h3V796h-3Z M1227,785h3V796h-3Z M1232,790h3V796h-3Z M1237,793h3V796h-3Z" fill="#006400" shape-rendering="crispEdges"/><path d="M13,797h3V798h-3Z M18,797h3V798h-3Z M23,797h3V803h-3Z M28,797h3V809h-3Z M33,797h3V814h-3Z M38,797h3V816h-3Z M43,797h3V827h-3Z M48,797h3V835h-3Z M93,797h3V817h-3Z M103,797h3V815h-3Z M108,797h3V819h-3Z M183,797h3V801h-3Z M188,797h3V808h-3Z M193,797h3V810h-3Z M198,797h3V810h-3Z M268,797h3V801h-3Z M273,797h3V809h-3Z M279,797h3V812h-3Z M284,797h3V817h-3Z M289,797h3V823h-3Z M294,797h3V831h-3Z M299,797h3V838h-3Z M519,797h3V798h-3Z M529,797h3V798h-3Z M534,797h3V799h-3Z M539,797h3V803h-3Z M544,797h3V808h-3Z M549,797h3V812h-3Z M605,797h3V800h-3Z M610,797h3V801h-3Z M615,797h3V803h-3Z M620,797h3V804h-3Z M700,797h3V798h-3Z M735,797h3V801h-3Z M740,797h3V804h-3Z M750,797h3V802h-3Z M755,797h3V808h-3Z M760,797h3V812h-3Z M765,797h3V815h-3Z M770,797h3V817h-3Z M775,797h3V826h-3Z M780,797h3V827h-3Z M800,797h3V818h-3Z M815,797h3V815h-3Z M830,797h3V816h-3Z M840,797h3V816h-3Z M845,797h3V820h-3Z M1011,797h3V800h-3Z M1016,797h3V801h-3Z M1031,797h3V799h-3Z M1041,797h3V798h-3Z M1046,797h3V799h-3Z M1051,797h3V804h-3Z M1056,797h3V809h-3Z M1061,797h3V815h-3Z M1066,797h3V828h-3Z M1071,797h3V831h-3Z M1101,797h3V815h-3Z M1106,797h3V817h-3Z M1136,797h3V800h-3Z M1141,797h3V800h-3Z M1146,797h3V801h-3Z M1242,797h3V800h-3Z M1247,797h3V801h-3Z M1252,797h3V804h-3Z M1257,797h3V808h-3Z M1262,797h3V808h-3Z" fill="#ff0000" shape-rendering="crispEdges"/><path d="M53,797h3V833h-3Z M58,797h3V831h-3Z M63,797h3V821h-3Z M68,797h3V813h-3Z M73,797h3V812h-3Z M78,797h3V812h-3Z M83,797h3V809h-3Z M88,797h3V808h-3Z M98,797h3V814h-3Z M113,797h3V815h-3Z M118,797h3V807h-3Z M203,797h3V805h-3Z M208,797h3V800h-3Z M304,797h3V828h-3Z M309,797h3V818h-3Z M314,797h3V810h-3Z M319,797h3V802h-3Z M554,797h3V809h-3Z M559,797h3V806h-3Z M564,797h3V802h-3Z M569,797h3V800h-3Z M574,797h3V798h-3Z M625,797h3V803h-3Z M630,797h3V798h-3Z M745,797h3V802h-3Z M785,797h3V824h-3Z M790,797h3V818h-3Z M795,797h3V816h-3Z M805,797h3V815h-3Z M810,797h3V813h-3Z M820,797h3V815h-3Z M825,797h3V815h-3Z M835,797h3V815h-3Z M850,797h3V814h-3Z M855,797h3V808h-3Z M860,797h3V801h-3Z M1021,797h3V800h-3Z M1076,797h3V830h-3Z M1081,797h3V822h-3Z M1086,797h3V819h-3Z M1091,797h3V819h-3Z M1096,797h3V812h-3Z M1111,797h3V812h-3Z M1116,797h3V804h-3Z M1121,797h3V801h-3Z M1151,797h3V800h-3Z" fill="#800000" shape-rendering="crispEdges"/>
<path d="M9.5,780.3 L14.5,780.6 L19.5,780.8 L24.5,782.3 L29.5,785.3 L34.5,789.6 L39.5,794.4 L44.5,801.9 L49.5,811.6 L54.5,820.6 L59.5,829.2 L64.5,835.3 L69.5,839.4 L74.5,843.3 L79.5,847.0 L84.5,850.1 L89.5,852.8 L94.5,857.8 L99.5,862.1 L104.5,866.7 L109.5,872.2 L114.5,876.9 L119.5,879.3 L124.5,879.0 L129.5,877.5 L134.5,875.2 L139.5,872.2 L144.5,866.9 L149.5,860.7 L154.5,855.1 L159.5,851.9 L164.5,850.1 L169.5,849.7 L174.5,849.1 L179.5,848.4 L184.5,849.3 L189.5,852.2 L194.5,855.4 L199.5,858.8 L204.5,860.8 L209.5,861.7 L214.5,859.9 L219.5,856.6 L224.5,851.9 L229.5,845.4 L234.5,840.5 L239.5,836.4 L244.5,834.9 L249.5,834.5 L254.5,834.6 L259.5,834.4 L264.5,834.2 L269.5,835.3 L274.5,838.2 L280.5,841.9 L285.5,847.0 L290.5,853.5 L295.5,862.1 L300.5,872.4 L305.5,880.2 L310.5,885.6 L315.5,888.9 L320.5,890.2 L325.5,889.5 L330.5,889.3 L335.5,886.7 L340.5,882.0 L345.5,875.2 L350.5,867.0 L355.5,857.8 L360.5,848.4 L365.5,839.9 L370.5,831.3 L375.5,822.9 L380.5,814.6 L385.5,806.1 L390.5,799.1 L395.5,793.4 L400.5,788.3 L405.5,783.1 L410.5,778.9 L415.5,776.1 L420.5,772.9 L425.5,769.0 L430.5,765.0 L435.5,760.5 L440.5,755.6 L445.5,751.0 L450.5,747.7 L455.5,745.3 L460.5,743.8 L465.5,742.0 L470.5,740.3 L475.5,738.8 L480.5,737.2 L485.5,735.6 L490.5,734.4 L495.5,733.7 L500.5,733.0 L505.5,732.2 L510.5,731.7 L515.5,731.4 L520.5,731.6 L525.5,731.8 L530.5,732.1 L535.5,732.8 L540.5,734.4 L545.5,737.2 L550.5,741.0 L555.5,744.1 L560.5,746.3 L565.5,747.7 L570.5,748.5 L575.5,748.7 L580.5,748.3 L585.5,747.7 L591.5,746.9 L596.5,745.3 L601.5,745.1 L606.5,745.8 L611.5,746.8 L616.5,748.5 L621.5,750.3 L626.5,751.8 L631.5,752.2 L636.5,751.9 L641.5,750.8 L646.5,749.4 L651.5,747.7 L656.5,745.8 L661.5,744.4 L666.5,743.0 L671.5,742.0 L676.5,741.1 L681.5,740.4 L686.5,740.0 L691.5,739.8 L696.5,739.9 L701.5,740.1 L706.5,739.7 L711.5,739.2 L716.5,738.6 L721.5,737.9 L726.5,737.2 L731.5,737.3 L736.5,738.2 L741.5,740.0 L746.5,741.2 L751.5,742.6 L756.5,745.3 L761.5,749.1 L766.5,753.7 L771.5,758.6 L776.5,765.9 L781.5,773.5 L786.5,780.3 L791.5,785.6 L796.5,790.5 L801.5,795.7 L806.5,800.2 L811.5,804.3 L816.5,809.0 L821.5,813.6 L826.5,818.2 L831.5,823.0 L836.5,827.4 L841.5,832.3 L846.5,838.1 L851.5,842.5 L856.5,845.2 L861.5,846.3 L866.5,845.1 L871.5,841.8 L876.5,837.3 L881.5,832.3 L886.5,826.9 L891.5,821.8 L896.5,816.7 L901.5,810.8 L907.5,804.5 L912.5,797.7 L917.5,791.1 L922.5,785.2 L927.5,781.1 L932.5,778.1 L937.5,775.6 L942.5,773.2 L947.5,770.4 L952.5,767.3 L957.5,763.8 L962.5,760.4 L967.5,757.8 L972.5,755.6 L977.5,753.3 L982.5,751.2 L987.5,749.1 L992.5,747.1 L997.5,745.6 L1002.5,745.0 L1007.5,744.9 L1012.5,745.8 L1017.5,746.8 L1022.5,747.6 L1027.5,747.7 L1032.5,748.2 L1037.5,748.3 L1042.5,748.5 L1047.5,749.1 L1052.5,750.8 L1057.5,753.7 L1062.5,758.3 L1067.5,766.1 L1072.5,774.6 L1077.5,783.0 L1082.5,789.4 L1087.5,794.9 L1092.5,800.3 L1097.5,804.1 L1102.5,808.8 L1107.5,813.7 L1112.5,817.5 L1117.5,819.3 L1122.5,820.3 L1127.5,820.0 L1132.5,819.2 L1137.5,819.9 L1142.5,820.8 L1147.5,821.8 L1152.5,822.5 L1157.5,822.1 L1162.5,820.9 L1167.5,820.0 L1172.5,818.4 L1177.5,815.2 L1182.5,811.3 L1187.5,807.3 L1192.5,803.3 L1197.5,798.9 L1202.5,794.3 L1207.5,789.8 L1212.5,785.9 L1218.5,782.4 L1223.5,779.4 L1228.5,776.8 L1233.5,775.2 L1238.5,774.4 L1243.5,775.3 L1248.5,776.4 L1253.5,778.1 L1258.5,780.9 L1263.5,783.7" fill="none" stroke="#c03030" stroke-width="1.1" stroke-linejoin="round" />
<path d="M9.5,780.1 L14.5,781.6 L19.5,781.8 L24.5,788.3 L29.5,797.3 L34.5,806.5 L39.5,813.6 L44.5,832.1 L49.5,850.2 L54.5,856.7 L59.5,863.8 L64.5,859.7 L69.5,855.8 L74.5,858.7 L79.5,861.8 L84.5,862.6 L89.5,863.8 L94.5,877.8 L99.5,879.0 L104.5,885.4 L109.5,894.3 L114.5,895.4 L119.5,889.1 L124.5,877.8 L129.5,871.2 L134.5,866.4 L139.5,859.8 L144.5,845.8 L149.5,835.9 L154.5,832.9 L159.5,838.8 L164.5,842.9 L169.5,848.3 L174.5,846.8 L179.5,845.5 L184.5,853.1 L189.5,863.5 L194.5,868.2 L199.5,872.4 L204.5,868.9 L209.5,865.3 L214.5,852.9 L219.5,843.3 L224.5,832.8 L229.5,819.6 L234.5,820.8 L239.5,820.2 L244.5,828.7 L249.5,832.8 L254.5,835.1 L259.5,833.7 L264.5,833.4 L269.5,839.4 L274.5,850.2 L280.5,856.8 L285.5,867.4 L290.5,879.5 L295.5,896.2 L300.5,914.0 L305.5,911.5 L310.5,907.1 L315.5,902.2 L320.5,895.1 L325.5,887.0 L330.5,888.2 L335.5,876.5 L340.5,862.9 L345.5,848.4 L350.5,833.9 L355.5,820.9 L360.5,811.1 L365.5,805.9 L370.5,796.9 L375.5,789.3 L380.5,781.3 L385.5,772.2 L390.5,771.1 L395.5,770.3 L400.5,768.0 L405.5,762.6 L410.5,762.1 L415.5,764.5 L420.5,760.3 L425.5,753.3 L430.5,749.0 L435.5,742.6 L440.5,736.0 L445.5,732.6 L450.5,734.3 L455.5,736.0 L460.5,737.5 L465.5,735.0 L470.5,733.4 L475.5,732.6 L480.5,730.8 L485.5,729.6 L490.5,729.2 L495.5,731.0 L500.5,730.2 L505.5,729.3 L510.5,729.5 L515.5,730.2 L520.5,732.5 L525.5,732.3 L530.5,733.7 L535.5,735.5 L540.5,740.6 L545.5,748.7 L550.5,756.2 L555.5,756.3 L560.5,755.4 L565.5,752.9 L570.5,752.1 L575.5,749.4 L580.5,746.8 L585.5,745.0 L591.5,743.9 L596.5,739.0 L601.5,744.1 L606.5,748.9 L611.5,750.9 L616.5,755.0 L621.5,757.6 L626.5,757.6 L631.5,753.8 L636.5,750.5 L641.5,746.5 L646.5,744.1 L651.5,740.8 L656.5,738.2 L661.5,738.8 L666.5,737.5 L671.5,737.9 L676.5,737.4 L681.5,737.9 L686.5,738.0 L691.5,738.9 L696.5,740.2 L701.5,741.2 L706.5,738.1 L711.5,737.1 L716.5,736.3 L721.5,735.3 L726.5,734.5 L731.5,737.3 L736.5,742.2 L741.5,747.1 L746.5,746.2 L751.5,747.8 L756.5,756.2 L761.5,764.2 L766.5,772.2 L771.5,778.4 L776.5,794.9 L781.5,804.1 L786.5,807.5 L791.5,806.9 L796.5,809.8 L801.5,816.6 L806.5,818.2 L811.5,820.7 L816.5,827.6 L821.5,832.2 L826.5,836.6 L831.5,842.2 L836.5,845.2 L841.5,851.7 L846.5,861.3 L851.5,859.9 L856.5,856.1 L861.5,850.7 L866.5,840.5 L871.5,828.7 L876.5,819.1 L881.5,812.5 L886.5,805.3 L891.5,801.3 L896.5,796.1 L901.5,787.4 L907.5,779.3 L912.5,770.4 L917.5,764.6 L922.5,761.5 L927.5,764.6 L932.5,766.3 L937.5,765.5 L942.5,763.7 L947.5,759.0 L952.5,755.0 L957.5,749.8 L962.5,746.6 L967.5,747.4 L972.5,746.7 L977.5,744.1 L982.5,743.0 L987.5,740.7 L992.5,739.0 L997.5,739.8 L1002.5,742.6 L1007.5,744.5 L1012.5,749.1 L1017.5,750.9 L1022.5,750.8 L1027.5,748.3 L1032.5,750.3 L1037.5,748.6 L1042.5,749.4 L1047.5,751.4 L1052.5,757.5 L1057.5,765.5 L1062.5,776.6 L1067.5,797.2 L1072.5,808.8 L1077.5,816.5 L1082.5,814.9 L1087.5,816.8 L1092.5,822.1 L1097.5,819.5 L1102.5,827.4 L1107.5,833.5 L1112.5,832.5 L1117.5,826.8 L1122.5,824.2 L1127.5,818.9 L1132.5,815.7 L1137.5,823.0 L1142.5,824.1 L1147.5,825.8 L1152.5,825.6 L1157.5,820.2 L1162.5,816.1 L1167.5,816.4 L1172.5,812.1 L1177.5,802.7 L1182.5,795.8 L1187.5,791.0 L1192.5,787.5 L1197.5,781.3 L1202.5,775.6 L1207.5,772.0 L1212.5,770.5 L1218.5,768.3 L1223.5,767.2 L1228.5,766.4 L1233.5,768.9 L1238.5,771.4 L1243.5,778.6 L1248.5,780.9 L1253.5,784.9 L1258.5,792.0 L1263.5,795.0" fill="none" stroke="#303030" stroke-width="1.1" stroke-linejoin="round" />
<path d="M1267.5,350L1283.2,395.6H1276V441.6H1259V395.6H1251.8Z" fill="none" stroke="#1fa84b" stroke-width="3" stroke-linejoin="miter"/>
<circle cx="1269" cy="779" r="47" fill="none" stroke="#dc1420" stroke-width="2.4"/>
<rect x="1374.5" y="222.5" width="412" height="289.5" rx="20" ry="20" fill="none" stroke="#e23a3a" stroke-width="1.1"/>
</svg>
<div class="abs" style="left:4px;top:128px;width:1807px;height:25px;background:#f9f9f9;border:1px solid #cfcfcf"></div><div class="abs" style="left:4px;top:128px;width:105px;height:25px;border:1px solid #cfcfcf;background:#f6f6f6;padding-left:3.5px;font-size:14.7px;line-height:24.5px;white-space:nowrap;color:#333;font-weight:bold;color:#000;font-size:15px">COMP 1 Y 1D</div><div class="abs" style="left:108px;top:128px;width:77px;height:25px;border:1px solid #cfcfcf;background:#f6f6f6;padding-left:3.5px;font-size:14.7px;line-height:24.5px;white-space:nowrap;color:#333;">D: 9/30/19</div><div class="abs" style="left:184px;top:128px;width:82px;height:25px;border:1px solid #cfcfcf;background:#f6f6f6;padding-left:3.5px;font-size:14.7px;line-height:24.5px;white-space:nowrap;color:#333;">O: 7964.09</div><div class="abs" style="left:265px;top:128px;width:80px;height:25px;border:1px solid #cfcfcf;background:#f6f6f6;padding-left:3.5px;font-size:14.7px;line-height:24.5px;white-space:nowrap;color:#333;">H: 8012.16</div><div class="abs" style="left:344px;top:128px;width:78px;height:25px;border:1px solid #cfcfcf;background:#f6f6f6;padding-left:3.5px;font-size:14.7px;line-height:24.5px;white-space:nowrap;color:#333;">L: 7949.63</div><div class="abs" style="left:421px;top:128px;width:81px;height:25px;border:1px solid #cfcfcf;background:#f6f6f6;padding-left:3.5px;font-size:14.7px;line-height:24.5px;white-space:nowrap;color:#333;">C: 7999.34</div><div class="abs" style="left:501px;top:128px;width:65px;height:25px;border:1px solid #cfcfcf;background:#f6f6f6;padding-left:3.5px;font-size:14.7px;line-height:24.5px;white-space:nowrap;color:#333;">R: 62.54</div><div class="abs" style="left:565px;top:128px;width:258px;height:25px;border:1px solid #cfcfcf;background:#f6f6f6;padding-left:3.5px;font-size:14.7px;line-height:24.5px;white-space:nowrap;color:#333;color:#1a4d9e">SimpleMovingAvg (CLOSE, 50, 0, no)</div><div class="abs" style="left:822px;top:128px;width:62px;height:25px;border:1px solid #cfcfcf;background:#f6f6f6;padding-left:3.5px;font-size:14.7px;line-height:24.5px;white-space:nowrap;color:#333;color:#1a4d9e">8037.65</div><div class="abs" style="left:883px;top:128px;width:259px;height:25px;border:1px solid #cfcfcf;background:#f6f6f6;padding-left:3.5px;font-size:14.7px;line-height:24.5px;white-space:nowrap;color:#333;color:#3f9a1e">SimpleMovingAvg (CLOSE, 10, 0, no)</div><div class="abs" style="left:1141px;top:128px;width:62px;height:25px;border:1px solid #cfcfcf;background:#f6f6f6;padding-left:3.5px;font-size:14.7px;line-height:24.5px;white-space:nowrap;color:#333;color:#3f9a1e">8081.71</div><div class="abs" style="left:1202px;top:128px;width:266px;height:25px;border:1px solid #cfcfcf;background:#f6f6f6;padding-left:3.5px;font-size:14.7px;line-height:24.5px;white-space:nowrap;color:#333;color:#333">SimpleMovingAvg (CLOSE, 200, 0, no)</div><div class="abs" style="left:1467px;top:128px;width:61px;height:25px;border:1px solid #cfcfcf;background:#f6f6f6;padding-left:3.5px;font-size:14.7px;line-height:24.5px;white-space:nowrap;color:#333;color:#333">7699.75</div>
<div class="abs" style="left:4px;top:698px;width:1807px;height:24px;background:#fafafa;border:1px solid #cfcfcf"></div><div class="abs" style="left:4px;top:698px;width:262px;height:24px;border:1px solid #cfcfcf;background:#f6f6f6;padding-left:3.5px;font-size:14.7px;line-height:22px;white-space:nowrap;color:#333">MACD (12, 26, 9, EXPONENTIAL, no)</div><div class="abs" style="left:265px;top:698px;width:61px;height:24px;border:1px solid #cfcfcf;background:#f6f6f6;padding-left:3.5px;font-size:14.7px;line-height:22px;white-space:nowrap;color:#333">2.38318</div><div class="abs" style="left:325px;top:698px;width:62px;height:24px;border:1px solid #cfcfcf;background:#f6f6f6;padding-left:3.5px;font-size:14.7px;line-height:22px;white-space:nowrap;color:#c03030">23.9281</div><div class="abs" style="left:386px;top:698px;width:59px;height:24px;border:1px solid #cfcfcf;background:#f6f6f6;padding-left:3.5px;font-size:14.7px;line-height:22px;white-space:nowrap;color:#d0141c">-21.545</div><div class="abs" style="left:444px;top:698px;width:19px;height:24px;border:1px solid #cfcfcf;background:#f6f6f6;padding-left:3.5px;font-size:14.7px;line-height:22px;white-space:nowrap;color:#6a1a9a">0</div>
<div class="axl" style="top:662.5px">6000</div>
<div class="axl" style="top:623.5px">6200</div>
<div class="axl" style="top:584.5px">6400</div>
<div class="axl" style="top:544.5px">6600</div>
<div class="axl" style="top:505.5px">6800</div>
<div class="axl" style="top:466.5px">7000</div>
<div class="axl" style="top:426.5px">7200</div>
<div class="axl" style="top:387.5px">7400</div>
<div class="axl" style="top:348.5px">7600</div>
<div class="axl" style="top:308.5px">7800</div>
<div class="axl" style="top:230.5px">8200</div>
<div class="axl" style="top:190.5px">8400</div>
<div class="axl" style="top:151.5px">8600</div>
<div class="axl" style="top:735.5px">100</div>
<div class="axl" style="top:840.5px">-100</div>
<div class="axl" style="top:893.5px">-200</div>
<div class="bub" style="top:267.5px">7999.34</div>
<div class="bub" style="top:326.3px">7699.75</div>
<div class="bub" style="top:785.2px">2.38318</div>
<div class="xl" style="left:122px">Nov</div>
<div class="xl" style="left:227px">Dec</div>
<div class="xl" style="left:323px">19</div>
<div class="xl" style="left:428px">Feb</div>
<div class="xl" style="left:523px">Mar</div>
<div class="xl" style="left:629px">Apr</div>
<div class="xl" style="left:734px">May</div>
<div class="xl" style="left:844px">Jun</div>
<div class="xl" style="left:945px">Jul</div>
<div class="xl" style="left:1055px">Aug</div>
<div class="xl" style="left:1165px">Sep</div>
<div class="xl" style="left:1266px">Oct</div>
<div class="xl" style="left:1381px">Nov</div>
<div class="xl" style="left:1481px">Dec</div>
<div class="xl" style="left:1587px">20</div>
<div class="xl" style="left:1692px">Feb</div>
<div class="xl" style="left:1787px">Mar</div>
<svg class="abs" style="left:0;top:0" width="1920" height="972"><g fill="#dcdcdc" stroke="#9c9c9c" stroke-width="1"><path d="M1037,178.5H1114.5a4.5,4.5 0 0 1 4.5,4.5V198.5a4.5,4.5 0 0 1 -4.5,4.5H1043.8L1037,210L1039.6,203H1037a4.5,4.5 0 0 1 -4.5,-4.5V183a4.5,4.5 0 0 1 4.5,-4.5Z"/><path d="M300,641.5H303.4L299.4,633L308.2,641.5H379.5a4.5,4.5 0 0 1 4.5,4.5V661.5a4.5,4.5 0 0 1 -4.5,4.5H300a4.5,4.5 0 0 1 -4.5,-4.5V646a4.5,4.5 0 0 1 4.5,-4.5Z"/></g></svg>
<div class="abs" style="left:1038px;top:183.5px;font-size:14.5px;line-height:17px;color:#111;white-space:nowrap">Hi: 8339.64</div>
<div class="abs" style="left:301.5px;top:646.5px;font-size:14.5px;line-height:17px;color:#111;white-space:nowrap">Lo: 6190.17</div>
<svg class="abs" style="left:1816px;top:130px" width="24" height="24"><path d="M2.4,2.5H20.6M2.4,20.6H20.6" stroke="#222" stroke-width="2.9" stroke-linecap="round"/><path d="M1.5,13.2C2.6,17.4 6,18.6 9.2,14.8C12.6,10.6 14,5.6 18,5.7C20,5.8 21,7.4 21.6,9.4" fill="none" stroke="#222" stroke-width="1.3" stroke-linecap="round"/></svg>
<div class="abs" style="left:1469px;top:136px;width:248px;height:106px;background:#fff"></div>
<div class="abs" style="left:1476px;top:143px;width:236px;height:92px;border:3px solid #000;background:#fff"></div>
<div class="abs" style="left:1482px;top:148px;width:224px;height:81px;border:1px solid #000;border-left-width:2px;border-right-width:2px"></div>
<svg class="abs" style="left:1580px;top:160px" width="38" height="22"><g fill="none" stroke-width="0.8"><path d="M2.5,19.5V9M2.5,10.5h4v7h-4" stroke="#555"/><path d="M6.5,16V7.5h4v7h-4M10.5,13V5h4v7h-4M14.5,10V2" stroke="#5a9a3a"/><path d="M21.5,2V12M21.5,4h4v7h-4M25.5,6.5h4v7h-4M29.5,9h4v7h-4M33.5,9V19.5" stroke="#c84040"/></g></svg>
<div class="abs" id="fitz" style="left:1490px;top:183px;font-family:'Liberation Serif',serif;font-weight:bold;font-size:16px;line-height:20px;color:#222;white-space:nowrap;transform-origin:0 0;transform:scaleX(1.745)">Fitzstock Charts</div>
<div class="abs" style="left:1531px;top:200px;width:118px;height:2px;background:#000"></div>
<div class="abs" id="www" style="left:1522px;top:206px;font-weight:bold;font-size:12px;line-height:16px;color:#0a0a1e;white-space:nowrap;transform-origin:0 0;transform:scaleX(1.24)">www.fitzstock.com</div>
<div class="abs ann" id="ann0" style="left:1388px;top:245.0px;transform:scaleX(1.0491);font-family:'Liberation Serif',serif;font-weight:bold;font-size:24px;line-height:27px;color:#000;white-space:nowrap;transform-origin:0 0">The Nasdaq closed in a 7 day</div>
<div class="abs ann" id="ann1" style="left:1388px;top:271.9px;transform:scaleX(1.0529);font-family:'Liberation Serif',serif;font-weight:bold;font-size:24px;line-height:27px;color:#000;white-space:nowrap;transform-origin:0 0"><span style="color:#e61b23;letter-spacing:0.55px">DOWNTREND</span> with bearish</div>
<div class="abs ann" id="ann2" style="left:1388px;top:298.7px;transform:scaleX(1.0539);font-family:'Liberation Serif',serif;font-weight:bold;font-size:24px;line-height:27px;color:#000;white-space:nowrap;transform-origin:0 0">MACD.</div>
<div class="abs ann" id="ann3" style="left:1388px;top:353.0px;transform:scaleX(1.0603);font-family:'Liberation Serif',serif;font-weight:bold;font-size:24px;line-height:27px;color:#000;white-space:nowrap;transform-origin:0 0">We remain in this WEDGE</div>
<div class="abs ann" id="ann4" style="left:1388px;top:379.0px;transform:scaleX(1.0458);font-family:'Liberation Serif',serif;font-weight:bold;font-size:24px;line-height:27px;color:#000;white-space:nowrap;transform-origin:0 0">pattern, which is direction-less.</div>
<div class="abs ann" id="ann5" style="left:1388px;top:434.0px;transform:scaleX(1.0371);font-family:'Liberation Serif',serif;font-weight:bold;font-size:24px;line-height:27px;color:#000;white-space:nowrap;transform-origin:0 0">Preserve capital and ytd gains until</div>
<div class="abs ann" id="ann6" style="left:1388px;top:460.7px;transform:scaleX(1.0375);font-family:'Liberation Serif',serif;font-weight:bold;font-size:24px;line-height:27px;color:#000;white-space:nowrap;transform-origin:0 0">we break back above 8200</div>
<div id="side">
<div class="tab sel" style="top:0px;height:66px"><span>Trade</span></div>
<div class="tab" style="top:66px;height:140px"><span>Times And Sales</span></div>
<div class="tab" style="top:206px;height:116px"><span>Active Trader</span></div>
<div class="tab" style="top:322px;height:102px"><span>Big Buttons</span></div>
<div class="tab sel" style="top:424px;height:66px"><span>Chart</span></div>
<div class="tab" style="top:490px;height:119px"><span>Phase Scores</span></div>
<div class="tab" style="top:609px;height:101px"><span>Dashboard</span></div>
<div class="tab" style="top:710px;height:75px"><span>Level II</span></div>
<div class="tab" style="top:785px;height:97px"><span>Live News</span></div>
</div>
<div class="abs" style="left:2px;top:942px;width:1886px;height:28px;background:#fff"></div>
<div class="abs" style="left:2px;top:947px;width:1589px;height:18px;background:#ececec"></div>
<div class="abs" style="left:2px;top:947px;width:18px;height:18px;background:#e0dfe0"></div>
<div class="abs" style="left:1555px;top:947px;width:36px;height:18px;background:#e0e0e0"></div>
<svg class="abs" style="left:7px;top:951px" width="8" height="10"><path d="M5.4,1.2V8.4L1,4.8Z" fill="#555b60"/></svg>
<svg class="abs" style="left:1560px;top:951px" width="30" height="10"><path d="M5.4,1.2V8.4L1,4.8Z" fill="#6a6a6a"/><path d="M19.8,1.2V8.4L24.2,4.8Z" fill="#6a6a6a"/></svg>
<svg class="abs" style="left:1594px;top:946px" width="22" height="20"><path d="M6.8,3.6V14.4L0.4,9Z M13.6,3.6V14.4L20,9Z" fill="#222"/><path d="M8.6,5.6V12.4M10.2,4.8V13.2M11.8,5.6V12.4" stroke="#222" stroke-width="1.1"/></svg>
<svg class="abs" style="left:1621px;top:946px" width="20" height="20"><circle cx="9.7" cy="10.7" r="6.2" fill="none" stroke="#222" stroke-width="1.5"/><path d="M9.7,2.7V18.7M1.5,10.7H18" stroke="#222" stroke-width="1.3"/></svg>
<svg class="abs" style="left:1648px;top:945px" width="24" height="22"><circle cx="9" cy="8.6" r="6.6" fill="none" stroke="#222" stroke-width="1.6"/><path d="M13.8,13.6L21.5,20.3" stroke="#222" stroke-width="2.4"/><path d="M5.6,8.6H12.4M9,5.2V12" stroke="#222" stroke-width="1.4"/></svg>
<svg class="abs" style="left:1675px;top:945px" width="24" height="22"><circle cx="9" cy="8.6" r="6.6" fill="none" stroke="#b4b4b4" stroke-width="1.6"/><path d="M13.8,13.6L21.5,20.3" stroke="#b4b4b4" stroke-width="2.4"/><path d="M5.6,8.6H12.4" stroke="#b4b4b4" stroke-width="1.4"/></svg>
<svg class="abs" style="left:1704px;top:946px" width="18" height="20"><path d="M5.6,10.5V2.6c0-1.9,2.7-1.9,2.7,0V8.3c.3-1.3,2.6-1.2,2.7,.2c.4-1.2,2.5-1,2.6,.4c.5-1,2.4-.8,2.4,.7v3.6c0,2.2-.9,3.2-1.2,4.8H7.2C6.6,16 4.6,14.2 2.6,12.6C1.2,11.4 2.6,9.6 4.2,10.5Z" fill="none" stroke="#222" stroke-width="1.55" stroke-linejoin="round"/></svg>
<div class="abs" style="left:1743px;top:948px;font-size:14.67px;line-height:18px;color:#222;white-space:nowrap">Drawing set: Default</div>
<svg class="abs" style="left:1880px;top:960px" width="5" height="5"><path d="M5,0V5H0Z" fill="#222"/></svg>
</body></html>
